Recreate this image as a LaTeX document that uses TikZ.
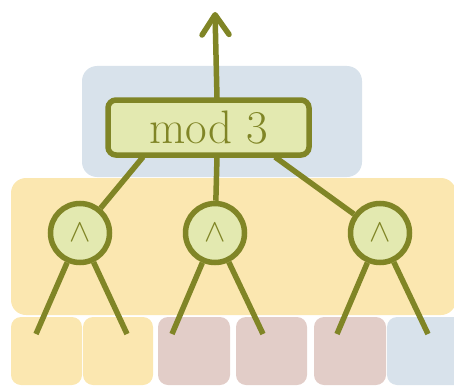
\documentclass[tikz,border=0pt]{standalone}
\usepackage{graphicx}
\usetikzlibrary{arrows.meta}
\definecolor{olive}{HTML}{808526}
\definecolor{lgreen}{HTML}{E3E9B0}
\definecolor{pyellow}{HTML}{FBE7B0}
\definecolor{pblue}{HTML}{D8E2EB}
\definecolor{ppink}{HTML}{E2CDC8}
\tikzset{
  region/.style={rounded corners=15pt},
  leafbox/.style={rounded corners=10pt},
  wire/.style={draw=olive, line width=5.5pt},
  gate/.style={circle, draw=olive, fill=lgreen, line width=5.5pt, minimum size=59pt, inner sep=0pt, text=olive},
  modbox/.style={rectangle, rounded corners=8pt, draw=olive, fill=lgreen, line width=5.5pt, minimum width=201pt, minimum height=55pt, inner sep=0pt, text=olive}
}
\newcommand{\gatesym}{\raisebox{-7pt}{\scalebox{3.2}{$\wedge$}}}
\newcommand{\modtext}{\fontsize{47}{50}\selectfont mod 3\hspace{10pt}}
\begin{document}
\begin{tikzpicture}[x=1pt,y=-1pt]
\useasboundingbox (0,0) rectangle (454,385);
\clip (0,0) rectangle (454,385);
% background regions
\fill[pblue, region] (82,66) rectangle (362,177);
\fill[pyellow, region] (11,178) rectangle (456,315);
% leaf boxes
\fill[pyellow, leafbox] (11,317) rectangle (82,385);
\fill[pyellow, leafbox] (83,317) rectangle (153,385);
\fill[ppink, leafbox] (158,317) rectangle (230,385);
\fill[ppink, leafbox] (236,317) rectangle (307,385);
\fill[ppink, leafbox] (314,317) rectangle (386,385);
\fill[pblue, leafbox] (387,317) rectangle (470,385);
% nodes
\node[modbox] (mod) at (208.5,127.5) {\modtext};
\node[gate] (c1) at (80,233) {\gatesym};
\node[gate] (c2) at (215,233) {\gatesym};
\node[gate] (c3) at (380,233) {\gatesym};
% connector end points
\coordinate (top) at (215,12);
\coordinate (m1) at (143,157);
\coordinate (m2) at (217,157);
\coordinate (m3) at (275,157);
\coordinate (m0) at (217,98);
\coordinate (l1) at (36,334);
\coordinate (l2) at (127,334);
\coordinate (l3) at (172,334);
\coordinate (l4) at (263,334);
\coordinate (l5) at (337,334);
\coordinate (l6) at (428,334);
% connectors
\draw[wire, line cap=round, -{Straight Barb[length=20pt,width=27pt,round]}] (m0) -- (top);
\draw[wire] (m1) -- (c1);
\draw[wire] (m2) -- (c2);
\draw[wire] (m3) -- (c3);
\draw[wire] (c1) -- (l1);
\draw[wire] (c1) -- (l2);
\draw[wire] (c2) -- (l3);
\draw[wire] (c2) -- (l4);
\draw[wire] (c3) -- (l5);
\draw[wire] (c3) -- (l6);
\end{tikzpicture}
\end{document}
